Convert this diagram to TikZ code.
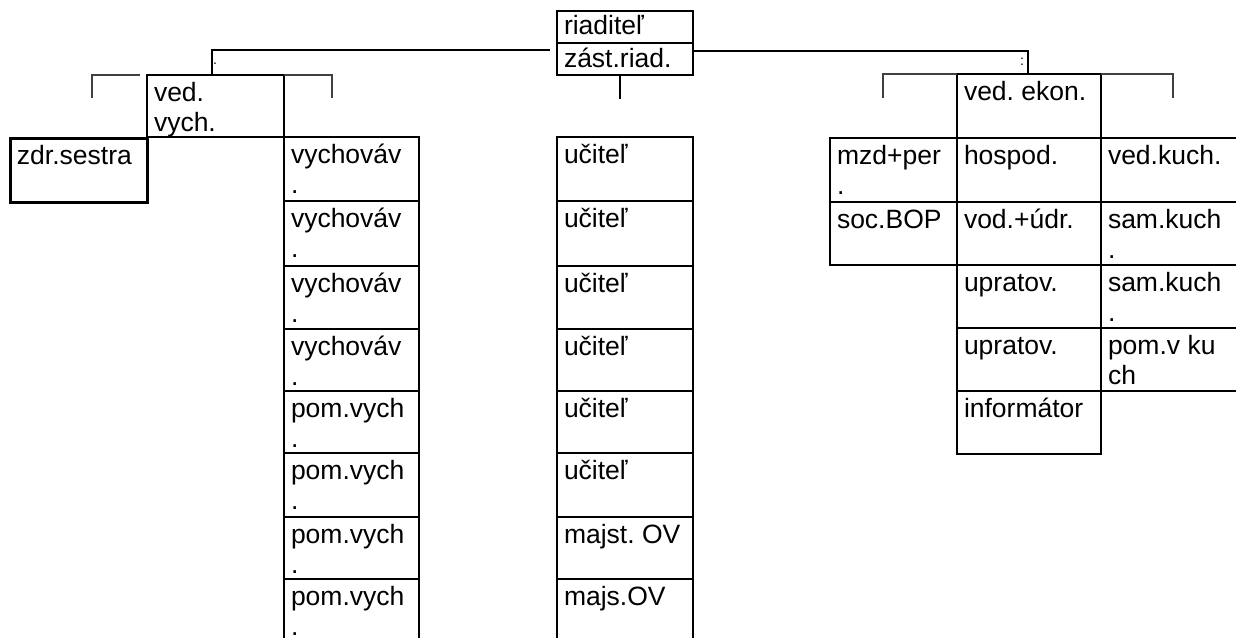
\documentclass[tikz,border=0pt]{standalone}
\usepackage{fontspec}
\setmainfont{Liberation Sans}
\frenchspacing
\newcommand\mkcell[7][cell]{%
  \node[#1, minimum width=#5*0.5pt, minimum height=#6*0.5pt] (#2) at (#3,#4) {};
  \node[lbl] (#2-t) at ([xshift=3.5pt,yshift=-2.75pt]#2.north west) {\rule{0pt}{10.5pt}#7};}
\begin{document}
\begin{tikzpicture}[x=0.5pt,y=-0.5pt,
  cell/.style={draw, line width=1pt, anchor=north west, inner sep=0pt, outer sep=0pt},
  thickcell/.style={cell, line width=1.5pt},
  lbl/.style={anchor=north west, inner sep=0pt, outer sep=0pt, align=left, font=\fontsize{13.25}{15}\selectfont},
  conn/.style={line width=0.75pt},
  brk/.style={line width=0.75pt, draw=black!75},
  tinytxt/.style={inner sep=0pt, font=\fontsize{7}{8}\selectfont}
]
\clip (0,0) rectangle (1236,637);
\fill[white] (0,0) rectangle (1236,637);

% top box
\node[cell, minimum width=136*0.5pt, minimum height=32.3*0.5pt] (dir) at (557,10.7) {};
\node[lbl] (dir-t) at ([xshift=3.5pt,yshift=-1.5pt]dir.north west) {\rule{0pt}{10.5pt}riaditeľ};
\node[cell, minimum width=136*0.5pt, minimum height=32*0.5pt] (zast) at (557,43) {};
\node[lbl] (zast-t) at ([xshift=3.5pt,yshift=-1.5pt]zast.north west) {\rule{0pt}{10.5pt}zást.riad.};

% left tree
\mkcell{vv}{147}{75}{137}{62}{ved.\\vych.}
\mkcell[thickcell]{zs}{10}{138}{137}{64}{zdr.sestra}

\mkcell{a1}{284}{137}{135}{64}{vychováv\\.}
\mkcell{a2}{284}{201}{135}{65}{vychováv\\.}
\mkcell{a3}{284}{266}{135}{63}{vychováv\\.}
\mkcell{a4}{284}{329}{135}{62}{vychováv\\.}
\mkcell{a5}{284}{391}{135}{62}{pom.vych\\.}
\mkcell{a6}{284}{453}{135}{64}{pom.vych\\.}
\mkcell{a7}{284}{517}{135}{62}{pom.vych\\.}
\mkcell{a8}{284}{579}{135}{64}{pom.vych\\.}

% middle column
\mkcell{u1}{557}{137}{136}{64}{učiteľ}
\mkcell{u2}{557}{201}{136}{65}{učiteľ}
\mkcell{u3}{557}{266}{136}{63}{učiteľ}
\mkcell{u4}{557}{329}{136}{62}{učiteľ}
\mkcell{u5}{557}{391}{136}{62}{učiteľ}
\mkcell{u6}{557}{453}{136}{64}{učiteľ}
\mkcell{u7}{557}{517}{136}{62}{majst. OV}
\mkcell{u8}{557}{579}{136}{64}{majs.OV}

% right tree
\mkcell{ve}{957}{74}{144}{64}{ved. ekon.}
\mkcell{m1}{830}{138}{127}{64}{mzd+per\\.}
\mkcell{m2}{830}{202}{127}{63}{soc.BOP}
\mkcell{h1}{957}{138}{144}{64}{hospod.}
\mkcell{h2}{957}{202}{144}{63}{vod.+údr.}
\mkcell{h3}{957}{265}{144}{63}{upratov.}
\mkcell{h4}{957}{328}{144}{63}{upratov.}
\mkcell{h5}{957}{391}{144}{63}{informátor}
\mkcell{k1}{1101}{138}{145}{64}{ved.kuch.}
\mkcell{k2}{1101}{202}{145}{63}{sam.kuch\\.}
\mkcell{k3}{1101}{265}{145}{63}{sam.kuch\\.}
\mkcell{k4}{1101}{328}{145}{63}{pom.v ku\\ch}

% connector points
\coordinate (lbA) at (92,98);
\coordinate (lbB) at (140,75);
\coordinate (rbA) at (332,98);
\coordinate (tl1) at (212,75);
\coordinate (tl2) at (550,50);
\coordinate (mv) at (620,99);
\coordinate (rs) at (693,51);
\coordinate (rt) at (1028,74);
\coordinate (rlA) at (883,98);
\coordinate (rrA) at (1173,98);

% connectors
\draw[brk] (lbA) |- (lbB);
\draw[brk] (vv.north east) -| (rbA);
\draw[conn] (tl1) |- (tl2);
\draw[conn] (mv |- zast.south) -- (mv);
\draw[conn] (rs) -| (rt);
\draw[brk] (rlA) |- (ve.north west);
\draw[brk] (ve.north east) -| (rrA);

\node[tinytxt] (d1) at (215,64) {.};
\node[tinytxt] (d2) at (1022,62) {:};
\end{tikzpicture}
\end{document}
